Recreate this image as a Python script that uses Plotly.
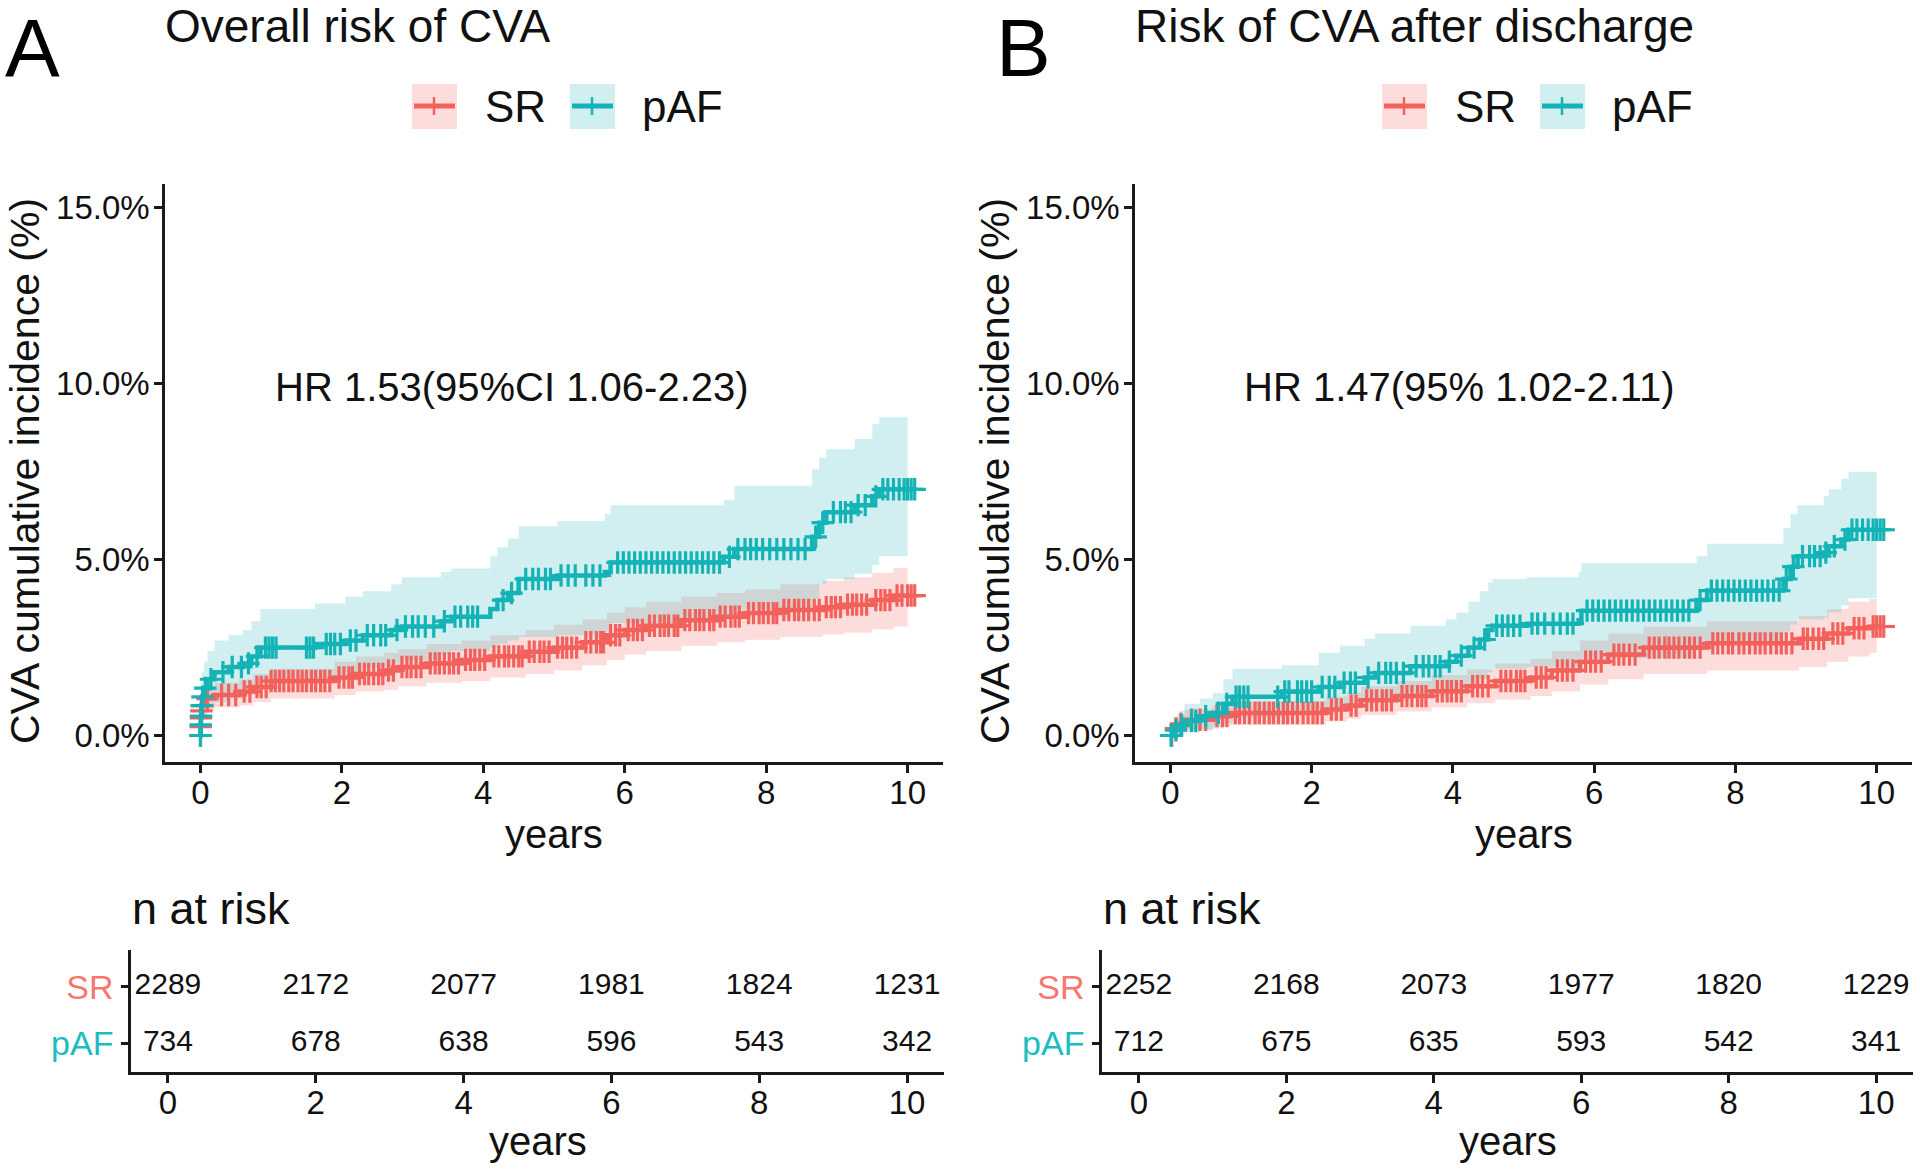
import numpy as np
import plotly.graph_objects as go

W, H = 1920, 1169
FONT = "Liberation Sans, Arial, sans-serif"

# ---------------- data: panel A (overall risk of CVA) ----------------
A_SR_t   = [0, 0.003, 0.006, 0.012, 0.02, 0.04, 0.08, 0.2, 0.55, 0.75, 1.0, 1.9, 2.2, 2.6, 2.8, 3.2, 3.7, 4.1, 4.6, 5.0, 5.4, 5.75, 6.0, 6.3, 6.8, 7.3, 7.7, 8.2, 8.8, 9.1, 9.5, 9.8]
A_SR_est = [0, 0.25, 0.5, 0.7, 0.85, 0.95, 1.05, 1.15, 1.25, 1.38, 1.55, 1.65, 1.75, 1.85, 1.95, 2.05, 2.15, 2.25, 2.38, 2.5, 2.65, 2.85, 3.0, 3.12, 3.28, 3.38, 3.48, 3.57, 3.65, 3.72, 3.85, 3.98]
A_SR_lo  = [0, 0.05, 0.25, 0.4, 0.5, 0.6, 0.7, 0.8, 0.85, 0.95, 1.05, 1.15, 1.25, 1.3, 1.4, 1.5, 1.55, 1.65, 1.75, 1.85, 2.0, 2.15, 2.3, 2.4, 2.55, 2.65, 2.72, 2.8, 2.87, 2.93, 3.02, 3.1]
A_SR_hi  = [0, 0.45, 0.75, 0.95, 1.15, 1.3, 1.4, 1.5, 1.6, 1.75, 1.9, 2.1, 2.25, 2.35, 2.45, 2.6, 2.7, 2.85, 3.0, 3.15, 3.3, 3.5, 3.65, 3.8, 3.95, 4.05, 4.15, 4.3, 4.4, 4.5, 4.62, 4.76]
A_SR_cens = [0.001, 0.004, 0.008, 0.015, 0.03, 0.1, 0.3, 0.4, 0.5, 0.62, 0.7, 0.8, 0.86, 0.93, 1.0, 1.06, 1.12, 1.18, 1.25, 1.31, 1.38, 1.44, 1.5, 1.57, 1.63, 1.7, 1.76, 1.83, 1.96, 2.03, 2.1, 2.15, 2.25, 2.32, 2.38, 2.45, 2.52, 2.58, 2.66, 2.73, 2.85, 2.92, 2.98, 3.05, 3.12, 3.25, 3.32, 3.38, 3.45, 3.52, 3.58, 3.65, 3.75, 3.82, 3.88, 3.95, 4.02, 4.15, 4.22, 4.3, 4.36, 4.43, 4.5, 4.55, 4.65, 4.72, 4.8, 4.86, 4.93, 5.05, 5.12, 5.18, 5.25, 5.32, 5.45, 5.52, 5.6, 5.66, 5.7, 5.8, 5.87, 5.93, 6.05, 6.12, 6.18, 6.25, 6.35, 6.42, 6.5, 6.56, 6.62, 6.7, 6.75, 6.85, 6.92, 7.0, 7.06, 7.12, 7.2, 7.26, 7.35, 7.42, 7.5, 7.56, 7.62, 7.75, 7.82, 7.9, 7.96, 8.03, 8.1, 8.15, 8.25, 8.32, 8.4, 8.46, 8.53, 8.6, 8.68, 8.75, 8.85, 8.92, 8.98, 9.05, 9.15, 9.22, 9.28, 9.35, 9.42, 9.55, 9.62, 9.68, 9.75, 9.85, 9.92, 10.0, 10.05, 10.1]

A_AF_t   = [0, 0.004, 0.008, 0.015, 0.025, 0.05, 0.1, 0.2, 0.4, 0.6, 0.72, 0.85, 1.62, 2.05, 2.3, 2.7, 2.85, 3.4, 3.55, 4.1, 4.2, 4.35, 4.5, 5.05, 5.72, 5.8, 7.4, 7.55, 8.65, 8.75, 8.85, 9.25, 9.5, 9.6]
A_AF_est = [0, 0.3, 0.55, 0.85, 1.1, 1.35, 1.6, 1.8, 1.95, 2.05, 2.25, 2.5, 2.6, 2.7, 2.85, 3.0, 3.1, 3.25, 3.38, 3.6, 3.85, 4.05, 4.45, 4.55, 4.65, 4.92, 5.08, 5.3, 5.65, 6.05, 6.35, 6.55, 6.8, 7.0]
A_AF_lo  = [0, 0.0, 0.1, 0.3, 0.45, 0.6, 0.8, 0.95, 1.05, 1.15, 1.3, 1.5, 1.6, 1.8, 1.95, 2.05, 2.15, 2.3, 2.4, 2.5, 2.6, 2.7, 2.8, 2.85, 2.95, 3.2, 3.4, 3.6, 3.9, 4.3, 4.45, 4.6, 4.85, 5.1]
A_AF_hi  = [0, 0.8, 1.1, 1.5, 1.8, 2.1, 2.4, 2.7, 2.85, 3.0, 3.25, 3.6, 3.75, 3.95, 4.1, 4.3, 4.5, 4.65, 4.75, 5.1, 5.35, 5.6, 5.95, 6.1, 6.3, 6.55, 6.7, 7.1, 7.57, 7.9, 8.14, 8.43, 8.86, 9.05]
A_AF_cens = [0.002, 0.006, 0.01, 0.018, 0.03, 0.07, 0.15, 0.32, 0.45, 0.58, 0.68, 0.8, 0.92, 0.97, 1.02, 1.07, 1.5, 1.55, 1.6, 1.78, 1.84, 1.9, 1.98, 2.12, 2.2, 2.36, 2.45, 2.55, 2.62, 2.78, 2.9, 3.0, 3.08, 3.18, 3.3, 3.45, 3.6, 3.68, 3.78, 3.85, 3.92, 4.28, 4.4, 4.6, 4.7, 4.78, 4.88, 4.95, 5.1, 5.2, 5.3, 5.45, 5.55, 5.65, 5.9, 5.98, 6.06, 6.14, 6.22, 6.3, 6.38, 6.46, 6.54, 6.62, 6.7, 6.78, 6.86, 6.94, 7.02, 7.1, 7.18, 7.26, 7.34, 7.48, 7.6, 7.7, 7.78, 7.86, 7.95, 8.05, 8.15, 8.25, 8.35, 8.45, 8.55, 8.7, 8.8, 8.95, 9.05, 9.12, 9.2, 9.3, 9.4, 9.55, 9.65, 9.72, 9.8, 9.88, 9.95, 10.0, 10.05, 10.1]

# ---------------- data: panel B (risk after discharge) ----------------
B_SR_t   = [0, 0.05, 0.1, 0.2, 0.6, 0.85, 2.2, 2.5, 2.7, 3.2, 3.7, 4.2, 4.6, 5.1, 5.4, 5.8, 6.2, 6.7, 7.6, 8.9, 9.3, 9.6, 9.9]
B_SR_est = [0, 0.2, 0.33, 0.45, 0.55, 0.64, 0.74, 0.85, 1.0, 1.12, 1.26, 1.4, 1.55, 1.65, 1.85, 2.1, 2.3, 2.5, 2.62, 2.75, 2.9, 3.05, 3.1]
B_SR_lo  = [0, 0.05, 0.1, 0.17, 0.25, 0.3, 0.4, 0.48, 0.58, 0.68, 0.8, 0.92, 1.02, 1.12, 1.25, 1.45, 1.6, 1.75, 1.85, 1.95, 2.1, 2.25, 2.35]
B_SR_hi  = [0, 0.4, 0.6, 0.75, 0.85, 0.98, 1.1, 1.22, 1.4, 1.55, 1.72, 1.88, 2.05, 2.18, 2.4, 2.7, 2.9, 3.1, 3.25, 3.4, 3.6, 3.8, 3.88]
B_SR_cens = [0.02, 0.08, 0.15, 0.3, 0.42, 0.5, 0.66, 0.74, 0.8, 0.92, 0.98, 1.05, 1.12, 1.2, 1.26, 1.33, 1.4, 1.46, 1.53, 1.6, 1.66, 1.73, 1.8, 1.88, 1.95, 2.02, 2.08, 2.15, 2.28, 2.35, 2.42, 2.56, 2.63, 2.78, 2.85, 2.92, 3.0, 3.06, 3.13, 3.28, 3.35, 3.42, 3.5, 3.56, 3.62, 3.78, 3.85, 3.92, 3.98, 4.05, 4.12, 4.28, 4.35, 4.42, 4.5, 4.68, 4.75, 4.82, 4.9, 4.96, 5.02, 5.18, 5.25, 5.32, 5.48, 5.55, 5.62, 5.7, 5.88, 5.95, 6.02, 6.1, 6.28, 6.35, 6.42, 6.5, 6.58, 6.78, 6.85, 6.92, 7.0, 7.06, 7.13, 7.2, 7.28, 7.35, 7.42, 7.5, 7.68, 7.75, 7.82, 7.9, 7.96, 8.05, 8.12, 8.2, 8.28, 8.35, 8.42, 8.5, 8.58, 8.65, 8.72, 8.8, 8.96, 9.02, 9.1, 9.18, 9.25, 9.38, 9.45, 9.52, 9.68, 9.75, 9.82, 9.95, 10.0, 10.05, 10.1]

B_AF_t   = [0, 0.05, 0.12, 0.2, 0.42, 0.6, 0.75, 0.88, 1.58, 2.1, 2.4, 2.75, 2.9, 3.4, 3.9, 4.05, 4.22, 4.38, 4.5, 4.56, 5.05, 5.78, 5.82, 7.45, 7.6, 8.68, 8.78, 8.88, 9.25, 9.32, 9.5, 9.6]
B_AF_est = [0, 0.15, 0.28, 0.42, 0.55, 0.65, 0.9, 1.1, 1.25, 1.38, 1.5, 1.65, 1.78, 1.97, 2.1, 2.27, 2.5, 2.73, 3.0, 3.12, 3.18, 3.28, 3.55, 3.85, 4.12, 4.45, 4.8, 5.1, 5.2, 5.38, 5.57, 5.85]
B_AF_lo  = [0, 0.0, 0.02, 0.08, 0.15, 0.2, 0.35, 0.5, 0.6, 0.7, 0.8, 0.9, 1.0, 1.1, 1.2, 1.3, 1.45, 1.6, 1.8, 1.9, 1.95, 2.0, 2.2, 2.45, 2.65, 2.95, 3.15, 3.3, 3.35, 3.5, 3.7, 3.9]
B_AF_hi  = [0, 0.5, 0.7, 0.9, 1.05, 1.2, 1.6, 1.9, 2.0, 2.35, 2.55, 2.75, 2.9, 3.12, 3.3, 3.5, 3.8, 4.1, 4.35, 4.45, 4.5, 4.66, 4.9, 5.1, 5.45, 5.9, 6.3, 6.55, 6.8, 7.0, 7.3, 7.5]
B_AF_cens = [0.01, 0.08, 0.16, 0.3, 0.36, 0.5, 0.68, 0.8, 0.93, 0.98, 1.04, 1.1, 1.52, 1.62, 1.68, 1.8, 1.86, 1.93, 2.0, 2.15, 2.25, 2.33, 2.46, 2.55, 2.62, 2.8, 2.95, 3.05, 3.12, 3.2, 3.3, 3.48, 3.58, 3.66, 3.75, 3.82, 3.95, 4.12, 4.3, 4.45, 4.62, 4.7, 4.78, 4.86, 4.95, 5.12, 5.2, 5.3, 5.42, 5.52, 5.62, 5.7, 5.9, 5.98, 6.06, 6.14, 6.22, 6.3, 6.38, 6.46, 6.54, 6.62, 6.7, 6.78, 6.86, 6.94, 7.02, 7.1, 7.18, 7.26, 7.34, 7.5, 7.66, 7.74, 7.82, 7.9, 7.98, 8.06, 8.14, 8.22, 8.3, 8.38, 8.46, 8.54, 8.62, 8.72, 8.82, 8.95, 9.05, 9.12, 9.2, 9.28, 9.4, 9.55, 9.65, 9.72, 9.8, 9.88, 9.95, 10.0, 10.05, 10.1]

FOLLOW_END = 10.1   # end of follow-up (last censoring)
BAND_END = 10.0     # confidence band drawn until last event window

# numbers at risk
RISK_TIMES = [0, 2, 4, 6, 8, 10]
A_SR_risk = [2289, 2172, 2077, 1981, 1824, 1231]
A_AF_risk = [734, 678, 638, 596, 543, 342]
B_SR_risk = [2252, 2168, 2073, 1977, 1820, 1229]
B_AF_risk = [712, 675, 635, 593, 542, 341]

GROUPS = ["SR", "pAF"]
TITLES = ["Overall risk of CVA", "Risk of CVA after discharge"]
PANEL_LETTERS = ["A", "B"]
HR_TEXT = ["HR 1.53(95%CI 1.06-2.23)", "HR 1.47(95% 1.02-2.11)"]
HR_POS = [(4.4, 9.9), (4.1, 9.9)]
Y_TICKS = [0, 5, 10, 15]
Y_TICKTEXT = ["0.0%", "5.0%", "10.0%", "15.0%"]
X_TICKS = [0, 2, 4, 6, 8, 10]

# styles
LINE_COL = {"SR": "#F3615C", "pAF": "#14B3B6"}
LABEL_COL = {"SR": "#F8766D", "pAF": "#1CBDC1"}
FILL_COL = {"SR": "rgba(247,119,111,0.25)", "pAF": "rgba(71,191,195,0.25)"}
AX_COL = "#1a1a1a"


def px_x(p):
    return p / W


def px_y(p):
    return 1 - p / H


fig = go.Figure()

panels = [
    dict(SR=(A_SR_t, A_SR_est, A_SR_lo, A_SR_hi, A_SR_cens),
         pAF=(A_AF_t, A_AF_est, A_AF_lo, A_AF_hi, A_AF_cens),
         risk={"SR": A_SR_risk, "pAF": A_AF_risk}),
    dict(SR=(B_SR_t, B_SR_est, B_SR_lo, B_SR_hi, B_SR_cens),
         pAF=(B_AF_t, B_AF_est, B_AF_lo, B_AF_hi, B_AF_cens),
         risk={"SR": B_SR_risk, "pAF": B_AF_risk}),
]

# layout geometry (pixels)
MAIN_X = [(165, 943), (1135, 1912)]
MAIN_Y = (184, 762)
TAB_X = [(131, 944), (1102, 1913)]
TAB_Y = (950, 1072)
OFF = [0, 970]

layout_axes = {}
annotations = []
shapes = []

for i, pdata in enumerate(panels):
    xm = "x" if i == 0 else "x2"
    ym = "y" if i == 0 else "y2"
    xt = "x3" if i == 0 else "x4"
    yt = "y3" if i == 0 else "y4"

    # bands
    for g in GROUPS:
        t, est, lo, hi, cens = pdata[g]
        bx = list(t) + [BAND_END]
        fig.add_trace(go.Scatter(x=bx, y=list(lo) + [lo[-1]], mode="lines",
                                 line=dict(width=0, shape="hv"), xaxis=xm, yaxis=ym,
                                 showlegend=False, hoverinfo="skip"))
        fig.add_trace(go.Scatter(x=bx, y=list(hi) + [hi[-1]], mode="lines",
                                 line=dict(width=0, shape="hv"), fill="tonexty",
                                 fillcolor=FILL_COL[g], xaxis=xm, yaxis=ym,
                                 showlegend=False, hoverinfo="skip"))
    # lines + censor marks
    for g in GROUPS:
        t, est, lo, hi, cens = pdata[g]
        fig.add_trace(go.Scatter(x=list(t) + [FOLLOW_END], y=list(est) + [est[-1]],
                                 mode="lines", line=dict(color=LINE_COL[g], width=4.5, shape="hv"),
                                 xaxis=xm, yaxis=ym, showlegend=False))
        idx = np.searchsorted(np.array(t), np.array(cens), side="right") - 1
        cy = np.array(est)[idx]
        fig.add_trace(go.Scatter(x=cens, y=cy, mode="markers",
                                 marker=dict(symbol="cross-thin", size=16, color=LINE_COL[g],
                                             line=dict(color=LINE_COL[g], width=3.2)),
                                 xaxis=xm, yaxis=ym, showlegend=False))
    # risk table numbers
    for g in GROUPS:
        yv = 2 if g == "SR" else 1
        fig.add_trace(go.Scatter(x=RISK_TIMES, y=[yv] * len(RISK_TIMES), mode="text",
                                 text=[str(v) for v in pdata["risk"][g]],
                                 textfont=dict(size=30, color="#111", family=FONT),
                                 xaxis=xt, yaxis=yt, showlegend=False, hoverinfo="skip"))

    ax_common = dict(showline=True, linecolor=AX_COL, linewidth=2.5, ticks="outside",
                     tickcolor=AX_COL, tickwidth=2.5, showgrid=False, zeroline=False,
                     tickfont=dict(size=33, color="#111", family=FONT))
    kx = "xaxis" if i == 0 else "xaxis2"
    ky = "yaxis" if i == 0 else "yaxis2"
    layout_axes[kx] = dict(ax_common, domain=[px_x(MAIN_X[i][0]), px_x(MAIN_X[i][1])],
                           range=[-0.5, 10.5], tickvals=X_TICKS, ticklen=8,
                           anchor=ym, ticklabelstandoff=-8)
    layout_axes[ky] = dict(ax_common, domain=[px_y(MAIN_Y[1]), px_y(MAIN_Y[0])],
                           range=[-0.753, 15.68], tickvals=Y_TICKS, ticktext=Y_TICKTEXT,
                           ticklen=8, anchor=xm, ticklabelstandoff=-2)
    kxt = "xaxis3" if i == 0 else "xaxis4"
    kyt = "yaxis3" if i == 0 else "yaxis4"
    layout_axes[kxt] = dict(ax_common, domain=[px_x(TAB_X[i][0]), px_x(TAB_X[i][1])],
                            range=[-0.5, 10.5], tickvals=X_TICKS, ticklen=8,
                            anchor=yt, ticklabelstandoff=-8)
    layout_axes[kyt] = dict(ax_common, domain=[px_y(TAB_Y[1]), px_y(TAB_Y[0])],
                            range=[0.49, 2.65], tickvals=[2, 1],
                            ticktext=['<span style="color:%s">%s</span>' % (LABEL_COL[g], g) for g in GROUPS],
                            ticklen=7, anchor=xt, ticklabelstandoff=1)
    layout_axes[kyt]["tickfont"] = dict(size=34, family=FONT)

    o = OFF[i]
    # panel letter + title
    annotations.append(dict(text=PANEL_LETTERS[i], xref="paper", yref="paper",
                            x=px_x(3 + 991 * i), y=1, xanchor="left", yanchor="top",
                            showarrow=False, font=dict(size=82, color="#000", family=FONT)))
    annotations.append(dict(text=TITLES[i], xref="paper", yref="paper",
                            x=px_x(MAIN_X[i][0] - 2), y=px_y(26), xanchor="left", yanchor="middle",
                            showarrow=False, font=dict(size=46, color="#111", family=FONT)))
    # HR annotation
    annotations.append(dict(text=HR_TEXT[i], xref=xm, yref=ym, x=HR_POS[i][0], y=HR_POS[i][1],
                            xanchor="center", yanchor="middle", showarrow=False,
                            font=dict(size=40, color="#111", family=FONT)))
    # axis titles
    annotations.append(dict(text="CVA cumulative incidence (%)", xref="paper", yref="paper",
                            x=px_x(25 + o), y=px_y(471), textangle=-90, xanchor="center",
                            yanchor="middle", showarrow=False,
                            font=dict(size=41, color="#111", family=FONT)))
    annotations.append(dict(text="years", xref="paper", yref="paper",
                            x=px_x((MAIN_X[i][0] + MAIN_X[i][1]) / 2), y=px_y(834),
                            xanchor="center", yanchor="middle", showarrow=False,
                            font=dict(size=40, color="#111", family=FONT)))
    annotations.append(dict(text="n at risk", xref="paper", yref="paper",
                            x=px_x(TAB_X[i][0] - 1), y=px_y(908), xanchor="left", yanchor="middle",
                            showarrow=False, font=dict(size=45, color="#111", family=FONT)))
    annotations.append(dict(text="years", xref="paper", yref="paper",
                            x=px_x((TAB_X[i][0] + TAB_X[i][1]) / 2), y=px_y(1141),
                            xanchor="center", yanchor="middle", showarrow=False,
                            font=dict(size=40, color="#111", family=FONT)))

    # custom legend: key boxes with line and "+"
    key_lefts = [412 + o, 570 + o]
    text_lefts = [483 + o, 640 + o]
    for g, kl, tl in zip(GROUPS, key_lefts, text_lefts):
        shapes.append(dict(type="rect", xref="paper", yref="paper",
                           x0=px_x(kl), x1=px_x(kl + 45), y0=px_y(129), y1=px_y(84),
                           fillcolor=FILL_COL[g], line=dict(width=0)))
        shapes.append(dict(type="line", xref="paper", yref="paper",
                           x0=px_x(kl + 2), x1=px_x(kl + 43), y0=px_y(106), y1=px_y(106),
                           line=dict(color=LINE_COL[g], width=5)))
        shapes.append(dict(type="line", xref="paper", yref="paper",
                           x0=px_x(kl + 22), x1=px_x(kl + 22), y0=px_y(97), y1=px_y(115),
                           line=dict(color=LINE_COL[g], width=2.5)))
        annotations.append(dict(text=g, xref="paper", yref="paper", x=px_x(tl), y=px_y(107),
                                xanchor="left", yanchor="middle", showarrow=False,
                                font=dict(size=44, color="#111", family=FONT)))

fig.update_layout(
    width=W, height=H, margin=dict(l=0, r=0, t=0, b=0),
    paper_bgcolor="white", plot_bgcolor="white",
    font=dict(family=FONT, color="#111"),
    showlegend=False,
    annotations=annotations, shapes=shapes,
    **layout_axes,
)

fig.write_html("out.html", config={"displayModeBar": False},
               post_script="document.body.style.margin='0';")
